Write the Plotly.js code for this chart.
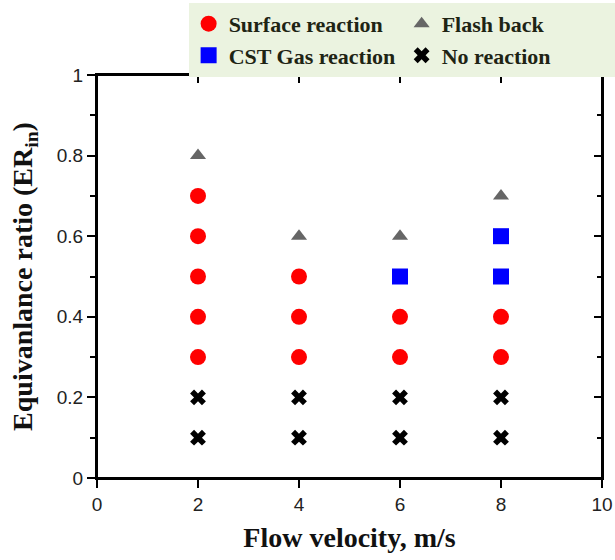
<!DOCTYPE html>
<html>
<head>
<meta charset="utf-8">
<script src="https://cdn.plot.ly/plotly-3.0.1.min.js"></script>
<style>html,body{margin:0;padding:0;background:#fff;}#chart{width:615px;height:560px;}</style>
</head>
<body>
<div id="chart"></div>
<script>
// Data
const surfaceX = [2, 2, 2, 2, 2, 4, 4, 4, 6, 6, 8, 8];
const surfaceY = [0.3, 0.4, 0.5, 0.6, 0.7, 0.3, 0.4, 0.5, 0.3, 0.4, 0.3, 0.4];
const flashX = [2, 4, 6, 8];
const flashY = [0.8, 0.6, 0.6, 0.7];
const cstX = [6, 8, 8];
const cstY = [0.5, 0.5, 0.6];
const noX = [2, 4, 6, 8, 2, 4, 6, 8];
const noY = [0.1, 0.1, 0.1, 0.1, 0.2, 0.2, 0.2, 0.2];
const xTicks = [0, 2, 4, 6, 8, 10];
const yTicks = [0, 0.2, 0.4, 0.6, 0.8, 1];
const yTickText = ['0', '0.2', '0.4', '0.6', '0.8', '1'];

const serifFam = 'Liberation Serif, Times New Roman, serif';

const traces = [
  {x: surfaceX, y: surfaceY, name: 'Surface reaction', type: 'scatter', mode: 'markers',
   marker: {symbol: 'circle', size: 16, color: '#ff0000'}},
  {x: flashX, y: flashY, name: 'Flash back', type: 'scatter', mode: 'markers',
   xaxis: 'x2', yaxis: 'y',
   marker: {symbol: 'triangle-up', size: 14, color: '#666666'}},
  {x: cstX, y: cstY, name: 'CST Gas reaction', type: 'scatter', mode: 'markers',
   xaxis: 'x', yaxis: 'y2',
   marker: {symbol: 'square', size: 16, color: '#0000ff'}},
  {x: noX, y: noY, name: 'No reaction', type: 'scatter', mode: 'markers',
   marker: {symbol: 'x', size: 14, color: '#000000'}}
];

const tickFont = {family: 'Liberation Sans, Arial, sans-serif', size: 19, color: '#222'};

const layout = {
  width: 615, height: 560,
  margin: {l: 97, r: 13, t: 75, b: 82, autoexpand: false},
  paper_bgcolor: '#fff', plot_bgcolor: '#fff',
  showlegend: true,
  legend: {orientation: 'h', x: 1.025, xanchor: 'right', y: 1.179, yanchor: 'top',
    bgcolor: '#ebf3e0', borderwidth: 0, entrywidth: 168, entrywidthmode: 'pixels',
    font: {family: serifFam, weight: 'bold', size: 22, color: '#1e2414'},
    itemwidth: 30, tracegroupgap: 0},
  shapes: [{type: 'rect', xref: 'paper', yref: 'paper', x0: 0, x1: 1, y0: 0, y1: 1,
    line: {color: '#000', width: 2}, fillcolor: 'rgba(0,0,0,0)', layer: 'above'}],
  xaxis: {range: [0, 10], tickvals: xTicks, ticks: 'outside', ticklen: 8, tickwidth: 2, tickcolor: '#000',
    showgrid: false, zeroline: false, showline: true, linecolor: '#000', linewidth: 2, tickfont: tickFont,
    title: {text: 'Flow velocity, m/s', font: {family: serifFam, weight: 'bold', size: 28, color: '#111'}, standoff: 14}},
  yaxis: {range: [0, 1], tickvals: yTicks, ticktext: yTickText, ticks: 'outside', ticklen: 8, tickwidth: 2, tickcolor: '#000',
    showgrid: false, zeroline: false, showline: true, linecolor: '#000', linewidth: 2, tickfont: tickFont,
    minor: {dtick: 0.1, ticks: 'outside', ticklen: 5, tickwidth: 2, tickcolor: '#000', showgrid: false},
    title: {text: 'Equivanlance ratio (ER<sub>in</sub>)', font: {family: serifFam, weight: 'bold', size: 28, color: '#111'}, standoff: 16}},
  xaxis2: {overlaying: 'x', side: 'top', anchor: 'y', range: [0, 10], tick0: 0, dtick: 2,
    ticks: 'inside', ticklen: 8, tickwidth: 2, tickcolor: '#000', showticklabels: false,
    showgrid: false, zeroline: false, showline: true, linecolor: '#000', linewidth: 2},
  yaxis2: {overlaying: 'y', side: 'right', anchor: 'x', range: [0, 1], tick0: 0, dtick: 0.2,
    ticks: 'inside', ticklen: 8, tickwidth: 2, tickcolor: '#000', showticklabels: false,
    showgrid: false, zeroline: false, showline: true, linecolor: '#000', linewidth: 2,
    minor: {dtick: 0.1, ticks: 'inside', ticklen: 5, tickwidth: 2, tickcolor: '#000', showgrid: false}}
};

Plotly.newPlot('chart', traces, layout, {staticPlot: true, displayModeBar: false});
</script>
</body>
</html>
